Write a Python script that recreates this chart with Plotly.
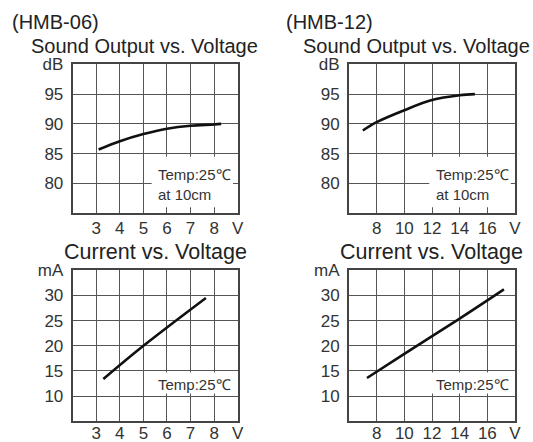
import plotly.graph_objects as go

# ---- data ----
v06_sound = [3.1, 4, 5, 6, 7, 8, 8.3]
db06 = [85.7, 87.1, 88.3, 89.2, 89.7, 89.9, 90.0]
v12_sound = [7.0, 8, 10, 12, 14, 15.1]
db12 = [88.9, 90.3, 92.3, 94.0, 94.8, 95.0]
v06_cur = [3.3, 5, 7.65]
ma06 = [13.4, 20, 29.5]
v12_cur = [7.3, 10, 14, 17.2]
ma12 = [13.6, 18.4, 25.4, 31.2]

x06_ticks = [3, 4, 5, 6, 7, 8, 9]
x06_text = ["3", "4", "5", "6", "7", "8", "V"]
x12_ticks = [8, 10, 12, 14, 16, 18]
x12_text = ["8", "10", "12", "14", "16", "V"]
db_ticks = [80, 85, 90, 95, 100]
db_text = ["80", "85", "90", "95", "dB"]
ma_ticks = [10, 15, 20, 25, 30, 35]
ma_text = ["10", "15", "20", "25", "30", "mA"]

models = ["(HMB-06)", "(HMB-12)"]
titles = ["Sound Output vs. Voltage", "Current vs. Voltage"]
note_sound = "Temp:25℃<br>at 10cm"
note_cur = "Temp:25℃"

W, H = 533, 442
FAM = "Liberation Sans, Arial, sans-serif"
TICKFONT = dict(family=FAM, size=17, color="#333333")

# panel boxes in pixels (left, right, top, bottom)
boxes = {
    1: (72.7, 237.7, 64.3, 213.3),
    2: (349.0, 515.0, 64.3, 213.3),
    3: (72.7, 237.7, 270.3, 421.3),
    4: (349.0, 515.0, 270.3, 421.3),
}

def xdom(b):
    return [b[0] / W, b[1] / W]

def ydom(b):
    return [1 - b[3] / H, 1 - b[2] / H]

fig = go.Figure()
series = [
    (1, v06_sound, db06),
    (2, v12_sound, db12),
    (3, v06_cur, ma06),
    (4, v12_cur, ma12),
]
for i, xs, ys in series:
    sfx = "" if i == 1 else str(i)
    fig.add_trace(go.Scatter(x=xs, y=ys, mode="lines", line=dict(color="#111111", width=2.6, shape="spline"),
                             xaxis="x" + sfx, yaxis="y" + sfx, showlegend=False, hoverinfo="skip"))

axis_common = dict(showline=True, mirror=True, linecolor="#444444", linewidth=2,
                   showgrid=True, gridcolor="#555555", gridwidth=1, zeroline=False,
                   ticks="", tickfont=TICKFONT, fixedrange=True)

cfg = {
    1: ([2, 9], x06_ticks, x06_text, [75, 100], db_ticks, db_text, -2),
    2: ([6, 18], x12_ticks, x12_text, [75, 100], db_ticks, db_text, -2),
    3: ([2, 9], x06_ticks, x06_text, [5, 35], ma_ticks, ma_text, -5),
    4: ([6, 18], x12_ticks, x12_text, [5, 35], ma_ticks, ma_text, -5),
}
layout = {}
for i, (xr, xt, xtt, yr, yt, ytt, so) in cfg.items():
    sfx = "" if i == 1 else str(i)
    b = boxes[i]
    layout["xaxis" + sfx] = dict(axis_common, domain=xdom(b), range=xr, tickvals=xt, ticktext=xtt,
                                 anchor="y" + sfx, ticklabelstandoff=so)
    layout["yaxis" + sfx] = dict(axis_common, domain=ydom(b), range=yr, tickvals=yt, ticktext=ytt,
                                 anchor="x" + sfx, ticklabelstandoff=4)

# white note boxes (data coords of each panel)
note_boxes = {
    1: (5.35, 8.8, 76.0, 84.5),
    2: (11.8, 17.7, 76.0, 84.5),
    3: (5.35, 8.8, 10.5, 14.7),
    4: (11.9, 17.7, 10.5, 14.7),
}
shapes = []
for i, (x0, x1, y0, y1) in note_boxes.items():
    sfx = "" if i == 1 else str(i)
    shapes.append(dict(type="rect", xref="x" + sfx, yref="y" + sfx, x0=x0, x1=x1, y0=y0, y1=y1,
                       fillcolor="white", line=dict(width=0), layer="above"))

annotations = []
for m, xpx in zip(models, [10, 284]):
    annotations.append(dict(text=m, x=xpx / W, y=1 - 22 / H, xref="paper", yref="paper",
                            xanchor="left", yanchor="middle", showarrow=False,
                            font=dict(family=FAM, size=20, color="#222222")))
for xpx, ypx, t, fs in [(144.5, 46, titles[0], 20), (416.7, 46, titles[0], 20),
                        (155, 252, titles[1], 21.5), (431.7, 252, titles[1], 21.5)]:
    annotations.append(dict(text=t, x=xpx / W, y=1 - ypx / H, xref="paper", yref="paper",
                            xanchor="center", yanchor="middle", showarrow=False,
                            font=dict(family=FAM, size=fs, color="#222222")))
NOTEFONT = dict(family=FAM, size=15, color="#333333")
for xpx, ypx, t in [(156, 184, note_sound), (433.5, 184, note_sound),
                    (156, 384, note_cur), (433.5, 384, note_cur)]:
    annotations.append(dict(text=t, x=xpx / W, y=1 - ypx / H, xref="paper", yref="paper",
                            xanchor="left", yanchor="middle", align="left", showarrow=False, font=NOTEFONT))

fig.update_layout(width=W, height=H, margin=dict(l=0, r=0, t=0, b=0, autoexpand=False),
                  paper_bgcolor="white", plot_bgcolor="white",
                  shapes=shapes, annotations=annotations, **layout)

fig.write_html("out.html", config={"displayModeBar": False},
               post_script="document.body.style.margin='0px';document.body.style.overflow='hidden';")
